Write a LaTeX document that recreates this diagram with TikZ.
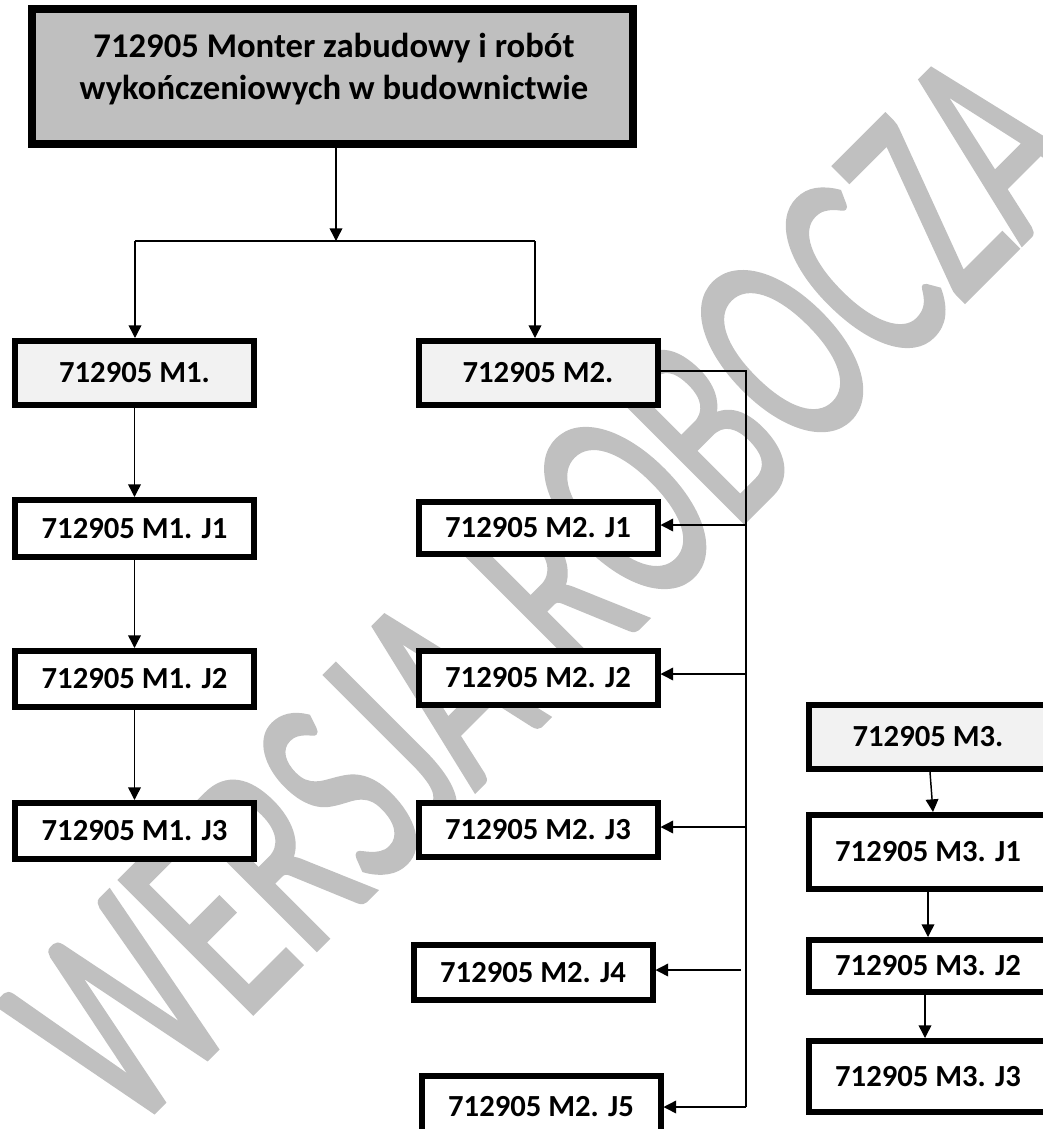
\documentclass[tikz,border=0pt]{standalone}
\usepackage{fontspec}
\setmainfont{Carlito}
\newfontfamily\wmfont[FakeBold=1.5]{Carlito}
\usetikzlibrary{arrows.meta,calc}
\definecolor{wmgray}{HTML}{C0C0C0}
\definecolor{topfill}{HTML}{BFBFBF}
\definecolor{modfill}{HTML}{F2F2F2}
\tikzset{
  boxbase/.style={draw=black, line width=4.5pt, fill=white, inner sep=0pt,
    font=\fontsize{23}{27}\selectfont\bfseries, minimum width=179.25pt},
  modbox/.style={boxbase, fill=modfill},
  topbox/.style={draw=black, line width=6pt, fill=topfill, inner sep=0pt,
    minimum width=450.75pt, minimum height=101.25pt},
  conn/.style={draw=black, line width=1.1pt},
  arr/.style={conn, -{Triangle[length=9.5pt,width=9.5pt]}}
}
\begin{document}
\begin{tikzpicture}[x=0.75pt,y=-0.75pt]
\path[use as bounding box, clip] (0,0) rectangle (1043,1129);
\fill[white] (0,0) rectangle (1043,1129);
% watermark
\node (wm) [rotate=45, anchor=base, inner sep=0pt, text=wmgray] at (612,654)
  {\scalebox{1}[1.59]{\fontsize{138}{138}\wmfont WERSJA ROBOCZA}};
% top box
\node (top) [topbox] at (332.5,76.5) {};
\node (toptext) [align=center, inner sep=0pt,
  font=\fontsize{26}{31}\selectfont\bfseries] at (334,69)
  {712905 Monter zabudowy i robót\\wykończeniowych w budownictwie};
% M1 column
\node (m1) [modbox, minimum height=48pt] at (134.5,373) {712905 M1.};
\node (m1j1) [boxbase, minimum height=42.75pt] at (134.5,528.5) {712905 M1. J1};
\node (m1j2) [boxbase, minimum height=42pt] at (134.5,679) {712905 M1. J2};
\node (m1j3) [boxbase, minimum height=42pt] at (134.5,831) {712905 M1. J3};
% M2 column
\node (m2) [modbox, minimum height=48pt] at (538,373) {712905 M2.};
\node (m2j1) [boxbase, minimum height=39pt] at (538,527.5) {712905 M2. J1};
\node (m2j2) [boxbase, minimum height=40.5pt] at (538,678) {712905 M2. J2};
\node (m2j3) [boxbase, minimum height=40.5pt] at (538,830) {712905 M2. J3};
\node (m2j4) [boxbase, minimum height=41.25pt] at (533,972.5) {712905 M2. J4};
\node (m2j5) [boxbase, minimum height=46.5pt] at (541,1107) {712905 M2. J5};
% M3 column
\node (m3) [modbox, minimum height=48pt] at (928,737) {712905 M3.};
\node (m3j1) [boxbase, minimum height=55.5pt] at (928,852) {712905 M3. J1};
\node (m3j2) [boxbase, minimum height=39pt] at (928,966) {712905 M3. J2};
\node (m3j3) [boxbase, minimum height=53.25pt] at (928,1076.5) {712905 M3. J3};
% connectors from top
\coordinate (jc) at (336,241);
\coordinate (jl) at (135,241);
\coordinate (jr) at (535,241);
\draw[arr] (top.south -| jc) -- (jc);
\draw[conn] (jl) -- (jr);
\draw[arr] (jl) -- (m1.north -| jl);
\draw[arr] (jr) -- (m2.north -| jr);
% M1 chain
\draw[arr] (m1.south) -- (m1j1.north);
\draw[arr] (m1j1.south) -- (m1j2.north);
\draw[arr] (m1j2.south) -- (m1j3.north);
% M2 bus
\coordinate (bt) at (746,371);
\coordinate (bb) at (746,1107);
\coordinate (j4free) at (741,970);
\draw[conn] (m2.east |- bt) -- (bt) -- (bb);
\draw[arr] (bt |- 0,525) -- (m2j1.east |- 0,525);
\draw[arr] (bt |- 0,674) -- (m2j2.east |- 0,674);
\draw[arr] (bt |- 0,827) -- (m2j3.east |- 0,827);
\draw[arr] (j4free) -- (m2j4.east |- j4free);
\draw[arr] (bb) -- (m2j5.east |- bb);
% M3 chain
\draw[arr] ($(m3.south)+(2,0)$) -- ($(m3j1.north)+(5,0)$);
\draw[arr] (m3j1.south) -- (m3j2.north);
\draw[arr] ($(m3j2.south)+(-3,0)$) -- ($(m3j3.north)+(-3,0)$);
\end{tikzpicture}
\end{document}
